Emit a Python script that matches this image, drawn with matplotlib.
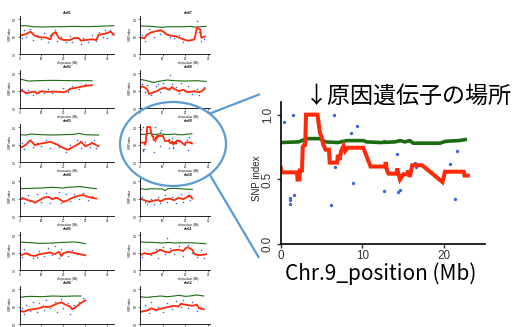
import matplotlib
matplotlib.use('Agg')
import matplotlib.pyplot as plt
from matplotlib.patches import Ellipse
from matplotlib.lines import Line2D

plt.rcParams['font.family'] = ['Liberation Sans', 'Noto Sans CJK JP', 'DejaVu Sans']

# chromosome 9 (the zoomed panel)
chr09_dot_x = [0.45, 1.47, 1.18, 1.18, 1.14, 1.63, 6.53, 6.16, 6.69, 8.6, 8.86, 9.35,
               12.6, 12.7, 14.2, 14.3, 14.6, 16.4, 16.5, 20.7, 21.6, 21.3]
chr09_dot_y = [0.94, 1.0, 0.36, 0.34, 0.31, 0.38, 1.0, 0.30, 0.60, 0.86, 0.47, 0.91,
               0.41, 0.80, 0.70, 0.40, 0.42, 0.63, 0.60, 0.62, 0.72, 0.35]
chr09_red_x = [0, 0.05, 2.0, 2.05, 2.3, 2.35, 2.6, 2.7, 2.9, 3.0, 3.1, 4.5, 4.8, 5.0,
               5.2, 5.5, 5.9, 6.0, 6.9, 7.0, 7.2, 7.4, 7.7, 7.9, 8.2, 10.1, 11.0, 12.8,
               12.85, 13.0, 13.2, 14.2, 14.25, 14.6, 15.0, 15.5, 15.6, 15.8, 16.1, 17.3,
               19.8, 20.1, 22.4, 22.5, 22.9]
chr09_red_y = [0.59, 0.555, 0.555, 0.50, 0.50, 0.57, 0.57, 0.75, 0.77, 0.77, 1.0, 1.0,
               0.86, 0.83, 0.77, 0.73, 0.73, 0.63, 0.63, 0.69, 0.65, 0.72, 0.76, 0.72,
               0.745, 0.745, 0.60, 0.60, 0.635, 0.57, 0.545, 0.545, 0.585, 0.50, 0.54,
               0.54, 0.57, 0.52, 0.61, 0.61, 0.48, 0.56, 0.56, 0.53, 0.53]
chr09_green_x = [0, 2.2, 3.2, 4.8, 5.5, 7.0, 8.1, 10.1, 10.5, 12.2, 14.0, 14.6, 15.2,
                 15.8, 16.2, 19.5, 20.2, 21.8, 22.8]
chr09_green_y = [0.785, 0.79, 0.815, 0.815, 0.79, 0.785, 0.80, 0.80, 0.79, 0.785, 0.79,
                 0.80, 0.79, 0.80, 0.78, 0.78, 0.795, 0.80, 0.81]

# small panels
chr01_green_x = [0, 3, 6, 10, 15, 20, 25, 30, 35, 40, 43]
chr01_green_y = [0.80, 0.81, 0.78, 0.77, 0.78, 0.78, 0.79, 0.78, 0.79, 0.80, 0.81]
chr01_red_x = [0, 2, 4, 5, 7, 9, 12, 14, 15, 16.5, 18, 20, 23, 25, 27, 28, 30, 33, 35,
               36, 38, 40, 41.5, 43]
chr01_red_y = [0.52, 0.55, 0.60, 0.64, 0.52, 0.48, 0.47, 0.42, 0.58, 0.62, 0.45, 0.40,
               0.40, 0.46, 0.45, 0.38, 0.40, 0.42, 0.40, 0.55, 0.57, 0.60, 0.64, 0.55]
chr01_dot_x = [1, 2, 3, 5, 6, 8, 10, 11, 13, 14, 16, 17, 19, 21, 23, 24, 26, 28, 29, 31,
               33, 35, 36, 38, 39, 40, 41, 42]
chr01_dot_y = [0.45, 0.68, 0.50, 0.72, 0.40, 0.55, 0.42, 0.60, 0.35, 0.55, 0.70, 0.38,
               0.48, 0.35, 0.52, 0.33, 0.50, 0.30, 0.45, 0.34, 0.55, 0.36, 0.62, 0.50,
               0.68, 0.45, 0.70, 0.58]

chr02_green_x = [0, 2, 4, 8, 15, 25, 33]
chr02_green_y = [0.83, 0.80, 0.77, 0.78, 0.79, 0.78, 0.78]
chr02_red_x = [0, 2, 3, 5, 7, 8, 10, 12, 16, 20, 22, 23, 26, 29, 31, 33]
chr02_red_y = [0.52, 0.47, 0.42, 0.45, 0.47, 0.41, 0.48, 0.46, 0.47, 0.45, 0.49, 0.55,
               0.58, 0.62, 0.64, 0.65]
chr02_dot_x = [1, 3, 4, 6, 9, 11, 13, 15, 18, 20, 22, 24, 27, 30]
chr02_dot_y = [0.55, 0.45, 0.52, 0.38, 0.50, 0.42, 0.55, 0.43, 0.50, 0.57, 0.46, 0.62,
               0.55, 0.68]

chr03_green_x = [0, 3, 5, 10, 15, 20, 25, 27, 30, 36]
chr03_green_y = [0.78, 0.77, 0.80, 0.78, 0.77, 0.78, 0.79, 0.82, 0.78, 0.77]
chr03_red_x = [0, 1, 3, 5, 7, 9, 12, 14, 17, 20, 22, 25, 27, 28, 30, 32, 33, 35, 36]
chr03_red_y = [0.45, 0.42, 0.50, 0.62, 0.48, 0.52, 0.55, 0.58, 0.50, 0.40, 0.35, 0.45,
               0.52, 0.58, 0.45, 0.50, 0.55, 0.48, 0.45]
chr03_dot_x = [1, 2, 4, 6, 8, 10, 12, 14, 16, 18, 21, 23, 26, 28, 30, 32, 34, 35]
chr03_dot_y = [0.55, 0.38, 0.60, 0.42, 0.55, 0.45, 0.62, 0.40, 0.55, 0.42, 0.30, 0.48,
               0.62, 0.40, 0.58, 0.42, 0.62, 0.40]

chr04_green_x = [0, 5, 10, 15, 20, 22, 28, 32, 35]
chr04_green_y = [0.78, 0.79, 0.80, 0.82, 0.80, 0.82, 0.84, 0.80, 0.78]
chr04_red_x = [0, 2, 4, 6, 7, 9, 11, 13, 15, 17, 19, 20, 22, 24, 27, 29, 31, 33, 35]
chr04_red_y = [0.48, 0.50, 0.45, 0.42, 0.38, 0.45, 0.52, 0.55, 0.48, 0.52, 0.45, 0.40,
               0.45, 0.52, 0.58, 0.60, 0.55, 0.52, 0.50]
chr04_dot_x = [1, 2, 4, 5, 8, 10, 12, 14, 16, 18, 19, 21, 23, 25, 27, 29, 31, 33]
chr04_dot_y = [0.55, 0.38, 0.60, 0.42, 0.62, 0.40, 0.65, 0.38, 0.55, 0.70, 0.38, 0.62,
               0.42, 0.62, 0.50, 0.65, 0.45, 0.58]

chr05_green_x = [0, 5, 10, 15, 20, 25, 28, 30]
chr05_green_y = [0.80, 0.78, 0.76, 0.77, 0.79, 0.80, 0.78, 0.75]
chr05_red_x = [0, 2, 3, 5, 7, 9, 12, 14, 16, 18, 19, 20, 22, 24, 27, 30]
chr05_red_y = [0.42, 0.45, 0.48, 0.42, 0.40, 0.45, 0.48, 0.50, 0.45, 0.52, 0.40, 0.48,
               0.52, 0.50, 0.46, 0.42]
chr05_dot_x = [1, 2, 4, 6, 8, 9, 11, 13, 15, 16, 18, 19, 21, 22, 24, 26]
chr05_dot_y = [0.38, 0.60, 0.50, 0.35, 0.38, 0.55, 0.40, 0.62, 0.42, 0.68, 0.35, 0.60,
               0.52, 0.40, 0.58, 0.45]

chr06_green_x = [0, 1, 2, 5, 10, 15, 20, 25, 28]
chr06_green_y = [0.80, 0.76, 0.78, 0.79, 0.78, 0.80, 0.79, 0.80, 0.80]
chr06_red_x = [0, 2, 4, 6, 9, 11, 13, 15, 17, 19, 21, 23, 24, 26, 28, 30]
chr06_red_y = [0.38, 0.35, 0.40, 0.42, 0.45, 0.50, 0.48, 0.52, 0.58, 0.62, 0.55, 0.50,
               0.42, 0.50, 0.60, 0.68]
chr06_dot_x = [1, 2, 3, 5, 6, 8, 9, 11, 12, 14, 16, 17, 19, 20, 22, 23, 25, 27, 29]
chr06_dot_y = [0.45, 0.28, 0.55, 0.38, 0.62, 0.35, 0.60, 0.40, 0.70, 0.45, 0.62, 0.35,
               0.72, 0.45, 0.60, 0.30, 0.55, 0.62, 0.75]

chr07_green_x = [0, 5, 10, 12, 20, 22, 24, 29]
chr07_green_y = [0.80, 0.79, 0.76, 0.78, 0.78, 0.79, 0.77, 0.79]
chr07_red_x = [0, 2, 3, 5, 7, 9, 10, 12, 14, 16, 19, 21, 23, 24, 25, 26.5, 27, 28.5]
chr07_red_y = [0.47, 0.45, 0.55, 0.62, 0.65, 0.68, 0.65, 0.55, 0.52, 0.50, 0.42, 0.38,
               0.40, 0.42, 0.75, 0.70, 0.46, 0.50]
chr07_dot_x = [1, 2, 4, 6, 8, 9, 11, 13, 15, 17, 19, 22, 25, 26, 27, 28]
chr07_dot_y = [0.55, 0.38, 0.72, 0.50, 0.68, 0.58, 0.60, 0.48, 0.45, 0.55, 0.35, 0.40,
               0.95, 0.62, 0.38, 0.42]

chr08_green_x = [0, 3, 6, 8, 12, 15, 20, 25, 29]
chr08_green_y = [0.82, 0.78, 0.73, 0.76, 0.80, 0.78, 0.77, 0.78, 0.76]
chr08_red_x = [0, 1, 3, 4, 6, 8, 9, 11, 13, 14, 15, 17, 19, 21, 24, 26, 27, 28.5]
chr08_red_y = [0.58, 0.62, 0.55, 0.40, 0.45, 0.50, 0.55, 0.58, 0.52, 0.60, 0.55, 0.48,
               0.52, 0.45, 0.48, 0.45, 0.48, 0.55]
chr08_dot_x = [1, 2, 3, 5, 7, 8, 9, 10, 12, 13, 14, 16, 17, 18, 20, 21, 23, 25, 26, 28]
chr08_dot_y = [0.70, 0.45, 0.65, 0.38, 0.62, 0.70, 0.45, 0.72, 0.55, 0.95, 0.68, 0.60,
               0.42, 0.72, 0.50, 0.62, 0.40, 0.55, 0.38, 0.60]

chr10_green_x = [0, 3, 5, 10, 11, 12, 15, 20, 23]
chr10_green_y = [0.78, 0.76, 0.78, 0.77, 0.72, 0.78, 0.79, 0.77, 0.76]
chr10_red_x = [0, 2, 4, 6, 8, 9, 11, 13, 15, 17, 19, 21, 22, 23]
chr10_red_y = [0.50, 0.45, 0.40, 0.44, 0.46, 0.42, 0.48, 0.50, 0.45, 0.52, 0.48, 0.55,
               0.58, 0.50]
chr10_dot_x = [1, 2, 3, 5, 6, 8, 9, 11, 12, 14, 16, 18, 19, 21, 22]
chr10_dot_y = [0.55, 0.40, 0.35, 0.50, 0.35, 0.55, 0.38, 0.60, 0.40, 0.55, 0.38, 0.62,
               0.40, 0.60, 0.45]

chr11_green_x = [0, 5, 10, 13, 15, 20, 25, 29]
chr11_green_y = [0.80, 0.79, 0.77, 0.79, 0.77, 0.78, 0.77, 0.75]
chr11_red_x = [0, 2, 4, 7, 8, 9, 11, 13, 14, 17, 19, 20, 21, 23, 24, 26, 29]
chr11_red_y = [0.42, 0.48, 0.45, 0.50, 0.55, 0.58, 0.52, 0.50, 0.56, 0.58, 0.54, 0.62,
               0.65, 0.58, 0.45, 0.42, 0.45]
chr11_dot_x = [1, 3, 5, 7, 8, 10, 11, 12, 13, 15, 17, 19, 21, 23, 25, 27, 28]
chr11_dot_y = [0.38, 0.50, 0.42, 0.60, 0.35, 0.65, 0.45, 0.92, 0.62, 0.45, 0.68, 0.40,
               0.72, 0.50, 0.38, 0.58, 0.35]

chr12_green_x = [0, 3, 6, 9, 12, 15, 17, 20, 22, 25, 28]
chr12_green_y = [0.78, 0.76, 0.78, 0.80, 0.78, 0.80, 0.82, 0.79, 0.80, 0.83, 0.80]
chr12_red_x = [0, 3, 5, 7, 10, 12, 15, 17, 18, 20, 23, 25, 26, 28]
chr12_red_y = [0.35, 0.38, 0.45, 0.40, 0.45, 0.48, 0.52, 0.50, 0.58, 0.55, 0.52, 0.55,
               0.45, 0.42]
chr12_dot_x = [1, 2, 4, 5, 7, 8, 10, 12, 14, 16, 18, 19, 21, 23, 25, 27]
chr12_dot_y = [0.38, 0.55, 0.32, 0.62, 0.40, 0.50, 0.35, 0.60, 0.42, 0.65, 0.48, 0.68,
               0.45, 0.62, 0.38, 0.50]

RED = '#ff2a0a'
GREEN = '#1b6b12'
BLUE = '#3c64dc'
OUTLINE = '#5b9bd5'

W, H = 518, 327
fig = plt.figure(figsize=(W / 100, H / 100), dpi=100)
fig.patch.set_facecolor('white')


def rect(left, top, width, height):
    return [left / W, 1 - (top + height) / H, width / W, height / H]


def small_panel(name, col, row, gx, gy, rx, ry, dx, dy):
    base = 54 + 54 * row
    left = 19.5 if col == 0 else 140
    ax = fig.add_axes(rect(left, base - 38.5, 95.5, 38.5))
    ax.patch.set_alpha(0)
    ax.plot(dx, dy, 'o', ms=1.1, color=BLUE, mec='none')
    ax.plot(gx, gy, color=GREEN, lw=0.8)
    ax.plot(rx, ry, color=RED, lw=1.3)
    if col == 0:
        ax.set_xlim(0, 43.5)
        ax.set_xticks([0, 10, 20, 30, 40])
        ax.spines['bottom'].set_bounds(0, 43.2)
    else:
        ax.set_xlim(0, 42)
        ax.set_xticks([0, 10, 20, 30])
        ax.spines['bottom'].set_bounds(0, 31)
    ax.set_ylim(0, 1.1)
    ax.set_yticks([0, 0.5, 1.0])
    ax.set_yticklabels(['0.0', '0.5', '1.0'], rotation=90, va='center')
    for s in ['top', 'right']:
        ax.spines[s].set_visible(False)
    for s in ['left', 'bottom']:
        ax.spines[s].set_linewidth(0.6)
    ax.tick_params(length=1.2, width=0.4, labelsize=2.1, pad=0.6)
    ax.set_title(name, fontsize=2.3, fontweight='bold', pad=1.2)
    ax.set_ylabel('SNP index', fontsize=2.0, labelpad=1)
    if row < 5:
        ax.set_xlabel('chr position (Mb)', fontsize=2.0, labelpad=0.4)
    else:
        # bottom row runs off the canvas, as in the source picture
        ax.tick_params(axis='x', labelbottom=False)


panels = [
    ('chr01', 0, 0, chr01_green_x, chr01_green_y, chr01_red_x, chr01_red_y, chr01_dot_x, chr01_dot_y),
    ('chr02', 0, 1, chr02_green_x, chr02_green_y, chr02_red_x, chr02_red_y, chr02_dot_x, chr02_dot_y),
    ('chr03', 0, 2, chr03_green_x, chr03_green_y, chr03_red_x, chr03_red_y, chr03_dot_x, chr03_dot_y),
    ('chr04', 0, 3, chr04_green_x, chr04_green_y, chr04_red_x, chr04_red_y, chr04_dot_x, chr04_dot_y),
    ('chr05', 0, 4, chr05_green_x, chr05_green_y, chr05_red_x, chr05_red_y, chr05_dot_x, chr05_dot_y),
    ('chr06', 0, 5, chr06_green_x, chr06_green_y, chr06_red_x, chr06_red_y, chr06_dot_x, chr06_dot_y),
    ('chr07', 1, 0, chr07_green_x, chr07_green_y, chr07_red_x, chr07_red_y, chr07_dot_x, chr07_dot_y),
    ('chr08', 1, 1, chr08_green_x, chr08_green_y, chr08_red_x, chr08_red_y, chr08_dot_x, chr08_dot_y),
    ('chr09', 1, 2, chr09_green_x, chr09_green_y, chr09_red_x, chr09_red_y, chr09_dot_x, chr09_dot_y),
    ('chr10', 1, 3, chr10_green_x, chr10_green_y, chr10_red_x, chr10_red_y, chr10_dot_x, chr10_dot_y),
    ('chr11', 1, 4, chr11_green_x, chr11_green_y, chr11_red_x, chr11_red_y, chr11_dot_x, chr11_dot_y),
    ('chr12', 1, 5, chr12_green_x, chr12_green_y, chr12_red_x, chr12_red_y, chr12_dot_x, chr12_dot_y),
]
for p in panels:
    small_panel(*p)

# zoomed chr09 panel
ax = fig.add_axes(rect(280.7, 101.7, 204.3, 142.6))
ax.patch.set_alpha(0)
ax.plot(chr09_dot_x, chr09_dot_y, 'o', ms=2.4, color=BLUE, mec='none')
ax.plot(chr09_green_x, chr09_green_y, color=GREEN, lw=2.6, solid_capstyle='butt')
ax.plot(chr09_red_x, chr09_red_y, color=RED, lw=2.9, solid_joinstyle='miter')
ax.set_xlim(0, 25)
ax.set_ylim(0, 1.1)
ax.set_xticks([0, 10, 20])
ax.set_yticks([0, 0.5, 1.0])
ax.set_yticklabels(['0.0', '0.5', '1.0'], rotation=90, va='center')
for s in ['top', 'right']:
    ax.spines[s].set_visible(False)
for s in ['left', 'bottom']:
    ax.spines[s].set_linewidth(1.2)
ax.tick_params(length=3, width=1, labelsize=8.4, pad=2, colors='#333333')
ax.tick_params(axis='x', pad=1)

fig.text(256.7 / W, 1 - 178 / H, 'SNP index', rotation=90, ha='center', va='center',
         fontsize=7, color='#222222')
fig.text(380.5 / W, 1 - 274 / H, 'Chr.9_position (Mb)', ha='center', va='center',
         fontsize=15, family=['Noto Sans CJK JP', 'DejaVu Sans'])
fig.text(305 / W, 1 - 96 / H, '↓原因遺伝子の場所', ha='left', va='center',
         fontsize=16.6, family=['Noto Sans CJK JP', 'DejaVu Sans'])

# highlight ellipse and connector lines
fig.add_artist(Ellipse((173 / W, 1 - 144 / H), 106 / W, 84 / H, transform=fig.transFigure,
                       fill=False, edgecolor=OUTLINE, lw=1.6, zorder=5))
fig.add_artist(Line2D([210 / W, 259 / W], [1 - 113.5 / H, 1 - 94.5 / H],
                      transform=fig.transFigure, color=OUTLINE, lw=1.6, zorder=5))
fig.add_artist(Line2D([210 / W, 258.5 / W], [1 - 175 / H, 1 - 257 / H],
                      transform=fig.transFigure, color=OUTLINE, lw=1.6, zorder=5))

fig.savefig('out.png', dpi=100)
